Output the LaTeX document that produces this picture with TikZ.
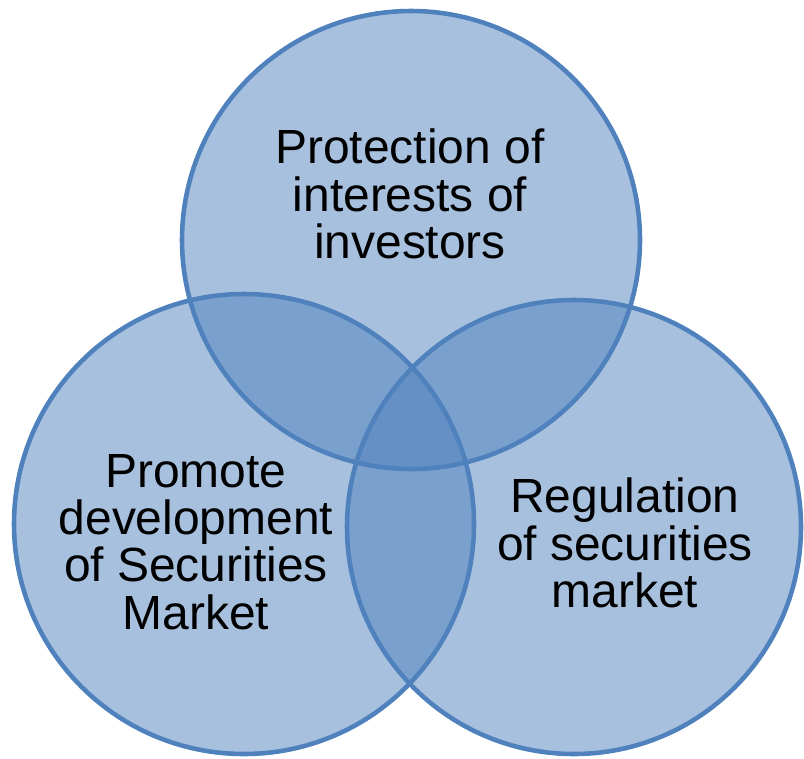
\documentclass[tikz,border=0pt]{standalone}
\usepackage{fontspec}
\setmainfont{Liberation Sans}
\definecolor{ringblue}{HTML}{4F81BD}

\begin{document}
\begin{tikzpicture}[x = 0.02cm, y = -0.02cm,
		disc/.style = {fill = ringblue, fill opacity = 0.5},
		rim/.style = {draw = ringblue, line width = 2.6pt},
		caption/.style = {align = center, inner sep = 0, font = \fontsize{27.3}{26.9}\selectfont}]
	
		\useasboundingbox (0, 0) rectangle (804, 758);
		
		% the three sets
		\fill[disc] (411, 240) circle (229);
		\fill[disc] (244, 524) circle (230);
		\fill[disc] (574, 527) circle (227);
		
		\draw[rim] (411, 240) circle (229);
		\draw[rim] (244, 524) circle (230);
		\draw[rim] (574, 527) circle (227);
		
		\node[caption] (protect) at (410, 194) {Protection of\\interests of\\investors};
		\node[caption] (promote) at (196, 542) {Promote\\development\\of Securities\\Market};
		\node[caption] (regulate) at (625, 543) {Regulation\\of securities\\market};
		
	\end{tikzpicture}
\end{document}
